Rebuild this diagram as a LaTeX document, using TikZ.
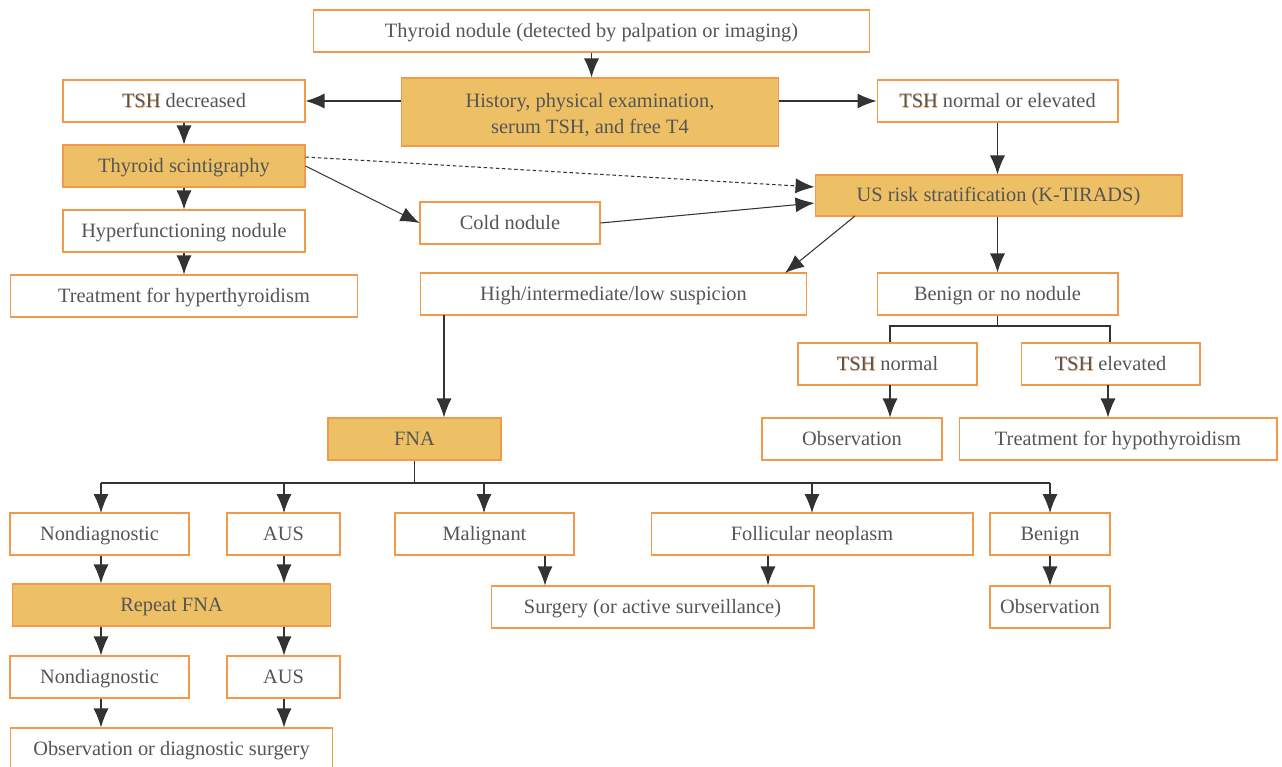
\documentclass[tikz,border=0pt]{standalone}
\usepackage{fontspec}
\setmainfont{Liberation Serif}
\usetikzlibrary{arrows.meta,positioning}
\definecolor{boxline}{HTML}{F39A4A}
\definecolor{boxfill}{HTML}{EEC066}
\definecolor{txtgray}{HTML}{555555}
\definecolor{linegray}{HTML}{333333}
\definecolor{tshglow}{HTML}{F5B070}
\newcommand{\tshmark}{\rlap{\textcolor{tshglow}{\kern0.5pt\raisebox{-0.5pt}{TSH}}}TSH}
\tikzset{
  box/.style={draw=boxline, line width=0.6pt, fill=white, minimum height=0.84cm, inner sep=2pt,
    align=center, text=txtgray, font=\fontsize{11.6}{14.7}\selectfont,
    text height=0.95em, text depth=0.22em},
  hbox/.style={box, fill=boxfill},
  arr/.style={draw=linegray, line width=0.6pt, -{Latex[length=3.8mm, width=3mm]}},
  ln/.style={draw=linegray, line width=0.6pt}
}
\begin{document}
\begin{tikzpicture}[x=0.02cm, y=-0.02cm]
    \clip (0,0) rectangle (1282,767);
    % Top part
    \node[box, minimum width=11.14cm] (nodule) at (591.5,31) {Thyroid nodule (detected by palpation or imaging)};
    \node[hbox, minimum width=7.56cm, minimum height=1.36cm, text height=26.9pt, text depth=2.5pt] (history) at (590,112) {History, physical examination,\\serum TSH, and free T4};
    \node[box, minimum width=4.84cm] (tshdec) at (184,101) {\tshmark{} decreased};
    \node[box, minimum width=4.82cm] (tshnorm) at (997.5,101) {\tshmark{} normal or elevated};

    % Left branch
    \node[hbox, minimum width=4.84cm] (scint) at (184,166) {Thyroid scintigraphy};
    \node[box, minimum width=4.84cm] (hyperf) at (184,231) {Hyperfunctioning nodule};
    \node[box, minimum width=6.96cm] (hypertx) at (184,296) {Treatment for hyperthyroidism};
    \node[box, minimum width=3.6cm] (cold) at (510,223) {Cold nodule};

    % US branch
    \node[hbox, minimum width=7.34cm, minimum height=0.82cm] (usrisk) at (998.5,195.5) {US risk stratification (K-TIRADS)};
    \node[box, minimum width=7.74cm] (suspic) at (613.5,294) {High/intermediate/low suspicion};
    \node[box, minimum width=4.82cm] (benign) at (997.5,294) {Benign or no nodule};
    \node[box, minimum width=3.58cm] (tshn) at (887.5,364) {\tshmark{} normal};
    \node[box, minimum width=3.58cm] (tshe) at (1110.5,364) {\tshmark{} elevated};
    \node[box, minimum width=3.6cm] (obs1) at (852,439) {Observation};
    \node[box, minimum width=6.36cm] (hypotx) at (1118,439) {Treatment for hypothyroidism};

    % FNA and results
    \node[hbox, minimum width=3.46cm] (fna) at (414.5,439) {FNA};
    \node[box, minimum width=3.58cm] (nondiag) at (99.5,534) {Nondiagnostic};
    \node[box, minimum width=2.26cm] (aus) at (283.5,534) {AUS};
    \node[box, minimum width=3.58cm] (malig) at (484.5,534) {Malignant};
    \node[box, minimum width=6.44cm] (follic) at (812,534) {Follicular neoplasm};
    \node[box, minimum width=2.4cm] (benfna) at (1050,534) {Benign};
    \node[hbox, minimum width=6.38cm] (repeat) at (171.5,605) {Repeat FNA};
    \node[box, minimum width=6.46cm] (surgery) at (652.5,607) {Surgery (or active surveillance)};
    \node[box, minimum width=2.4cm] (obs2) at (1050,607) {Observation};
    \node[box, minimum width=3.58cm] (nondiagb) at (99.5,677) {Nondiagnostic};
    \node[box, minimum width=2.26cm] (ausb) at (283.5,677) {AUS};
    \node[box, minimum width=6.46cm] (obsdiag) at (171.5,749) {Observation or diagnostic surgery};

    % Connections at the top
    \draw[arr] (nodule.south) -- (nodule.south |- history.north);
    \draw[arr] (history.west |- tshdec) -- (tshdec.east);
    \draw[arr] (history.east |- tshnorm) -- (tshnorm.west);
    \draw[arr] (tshdec) -- (scint);
    \draw[arr] (scint) -- (hyperf);
    \draw[arr] (hyperf) -- (hypertx);
    \draw[arr] (scint.east) -- (cold.west);
    \draw[arr, dashed, dash pattern=on 2pt off 1.5pt] ([yshift=0.18cm]scint.east) -- ([yshift=0.17cm]usrisk.west);
    \draw[arr] (cold.east) -- ([yshift=-0.15cm]usrisk.west);
    \draw[arr] (tshnorm) -- (tshnorm |- usrisk.north);

    % US risk
    \coordinate (usout) at (855,216);
    \coordinate (suspin) at (785,273);
    \draw[arr] (usout) -- (suspin);
    \draw[arr] (usrisk.south -| benign) -- (benign);
    \coordinate (bsplit) at (997.5,326);
    \draw[ln] (benign.south) -- (bsplit);
    \draw[ln] (tshn.north -| 890,0) |- (bsplit) -| (tshe.north -| 1110,0);
    \draw[arr] (890,385) coordinate (tshnout) -- (tshnout |- obs1.north);
    \draw[arr] (1108,385) coordinate (tsheout) -- (tsheout |- hypotx.north);

    % FNA
    \draw[arr] (444,315) coordinate (suspout) -- (suspout |- fna.north);
    \coordinate (fsplit) at (414.5,483);
    \draw[ln] (fna.south) -- (fsplit);
    \draw[ln] (101,483) -- (1050,483);
    \foreach \xx in {101,284,484,812,1050}
      \draw[arr] (\xx,483) -- (\xx,513);
    \draw[arr] (nondiag.south -| 101,0) -- (repeat.north -| 101,0);
    \draw[arr] (aus.south -| 284,0) -- (repeat.north -| 284,0);
    \draw[arr] (repeat.south -| 101,0) -- (nondiagb.north -| 101,0);
    \draw[arr] (repeat.south -| 284,0) -- (ausb.north -| 284,0);
    \draw[arr] (nondiagb.south -| 101,0) -- (obsdiag.north -| 101,0);
    \draw[arr] (ausb.south -| 284,0) -- (obsdiag.north -| 284,0);
    \draw[arr] (malig.south -| 545,0) -- (surgery.north -| 545,0);
    \draw[arr] (follic.south -| 768,0) -- (surgery.north -| 768,0);
    \draw[arr] (benfna) -- (obs2);
\end{tikzpicture}
\end{document}
